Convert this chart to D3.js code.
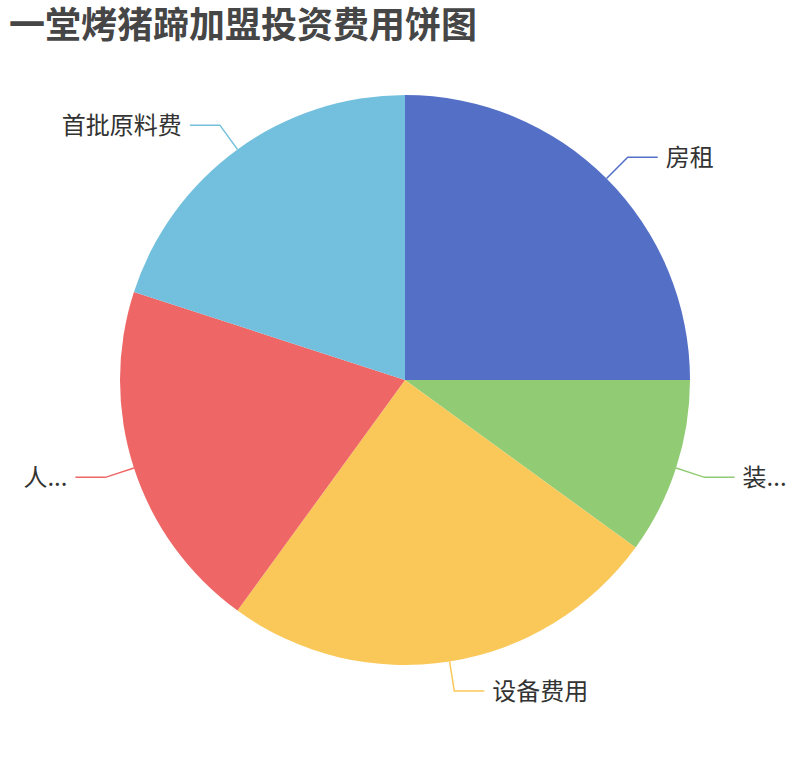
<!DOCTYPE html>
<html>
<head>
<meta charset="utf-8">
<script src="https://cdn.jsdelivr.net/npm/d3@7/dist/d3.min.js"></script>
<style>
  html, body { margin: 0; padding: 0; background: #fff; }
  body { font-family: "Noto Sans CJK SC", "Noto Sans", sans-serif; }
  .title { font-size: 36px; font-weight: bold; fill: #464646; }
  .slice-label { font-size: 24px; fill: #333; }
</style>
</head>
<body>
<svg id="chart" width="810" height="760"></svg>
<script>
//Data
const names = ['房租', '装修费用', '设备费用', '人工费用', '首批原料费'];
const values = [25, 10, 25, 20, 20];
const colors = ['#5470c6', '#91cc75', '#fac858', '#ee6666', '#73c0de'];

const W = 810, H = 760;
const cx = 405, cy = 380, R = 285;
const len1 = 30, len2 = 30, gap = 8;

const svg = d3.select('#chart');

svg.append('text')
  .attr('class', 'title')
  .attr('x', 9).attr('y', 38)
  .text('一堂烤猪蹄加盟投资费用饼图');

const pie = d3.pie().sort(null).value(d => d.value);
const arcs = pie(names.map((n, i) => ({ name: n, value: values[i] })));
const arc = d3.arc().innerRadius(0).outerRadius(R);

const g = svg.append('g').attr('transform', `translate(${cx},${cy})`);

g.selectAll('path.slice')
  .data(arcs)
  .join('path')
  .attr('class', 'slice')
  .attr('d', arc)
  .attr('fill', (d, i) => colors[i]);

// label lines + labels
arcs.forEach((d, i) => {
  const a = (d.startAngle + d.endAngle) / 2;
  const sx = Math.sin(a), sy = -Math.cos(a);
  const p0 = [sx * R, sy * R];
  const p1 = [sx * (R + len1), sy * (R + len1)];
  const right = sx >= 0;
  const p2 = [p1[0] + (right ? len2 : -len2), p1[1]];

  g.append('polyline')
    .attr('points', [p0, p1, p2].map(p => p.join(',')).join(' '))
    .attr('fill', 'none')
    .attr('stroke', colors[i])
    .attr('stroke-width', 1.5);

  const tx = p2[0] + (right ? gap : -gap);
  const t = g.append('text')
    .attr('class', 'slice-label')
    .attr('x', tx).attr('y', p2[1])
    .attr('dy', '0.35em')
    .attr('text-anchor', right ? 'start' : 'end')
    .text(d.data.name);

  // truncate with "..." when the label would run off the canvas
  const avail = right ? (W - (cx + tx)) : (cx + tx);
  let s = d.data.name;
  while (t.node().getComputedTextLength() > avail && s.length > 1) {
    s = s.slice(0, -1);
    t.text(s + '...');
  }
});
</script>
</body>
</html>
